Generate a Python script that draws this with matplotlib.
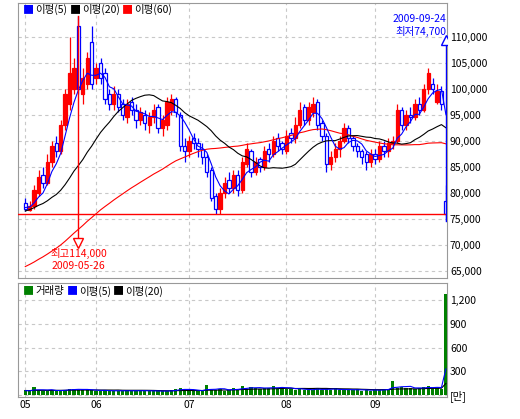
import matplotlib.pyplot as plt
import numpy as np
import pandas as pd

plt.rcParams['font.family'] = ['Noto Sans CJK KR', 'DejaVu Sans']

# 2009-05 ~ 2009-09 일봉
opens = [78000, 76800, 77500, 80000, 83500, 82000, 86000, 89500, 88000, 93000,
         97000, 100000, 112000, 99000, 101000, 109000, 102000, 105000, 103000, 99000,
         97000, 99000, 97000, 94500, 97500, 96000, 94000, 95000, 93000, 94500,
         96500, 92500, 93000, 96000, 98000, 95000, 89000, 88000, 90500, 89500,
         88500, 87000, 84500, 79500, 77000, 80000, 82500, 81000, 83500, 80500,
         85500, 88000, 84000, 86500, 85000, 88500, 87500, 90500, 89500, 88000,
         91500, 90500, 93000, 96500, 94000, 95500, 97500, 93500, 91000, 85500,
         87000, 88500, 90000, 92500, 90500, 89000, 88000, 87500, 86000, 87500,
         86500, 89000, 88000, 89500, 90000, 96000, 93000, 95000, 94500, 97000,
         96000, 100000, 101000, 97500, 99500, 78500]
closes = [77000, 77500, 80500, 83000, 82000, 86000, 89000, 88000, 93000, 99000,
          103000, 104000, 100000, 102000, 106000, 101000, 104000, 102000, 98000, 97000,
          99000, 96500, 95000, 97000, 96000, 94000, 95500, 93500, 94500, 96000,
          92500, 94000, 97500, 98000, 95500, 89000, 88000, 90000, 89500, 88500,
          87000, 84000, 79000, 77000, 80000, 82000, 81000, 83500, 80500, 86000,
          88500, 84000, 86000, 85000, 88000, 87500, 90000, 89000, 88500, 91000,
          90500, 93000, 96000, 94000, 96500, 97000, 93000, 91000, 85500, 87000,
          88500, 90000, 92500, 90500, 89000, 88000, 87000, 86000, 87500, 86500,
          89000, 88000, 89500, 90000, 96000, 93000, 95000, 94500, 97000, 96000,
          100000, 103000, 100000, 99500, 97000, 76000]
highs = [79000, 78500, 81500, 84500, 85000, 87500, 90000, 91000, 94000, 100000,
         110000, 106000, 114000, 104000, 107000, 112000, 105000, 106000, 104000, 100000,
         100500, 100000, 98000, 98000, 98500, 97000, 96500, 96000, 95500, 97000,
         97000, 95000, 98500, 99000, 98500, 95500, 90500, 91000, 91500, 90500,
         89500, 87500, 85000, 80000, 81000, 83000, 84000, 84500, 84500, 87000,
         89500, 88500, 87000, 87000, 89000, 89500, 91000, 91500, 90000, 92000,
         92500, 94500, 97500, 97000, 97500, 98500, 98000, 94000, 91500, 88000,
         89500, 91000, 93500, 93000, 91000, 89500, 88500, 88000, 88500, 88500,
         90000, 90000, 90500, 91000, 97000, 96500, 96000, 96500, 98000, 98500,
         101000, 104000, 102000, 101000, 100500, 81500]
lows = [76500, 76500, 77000, 79500, 81000, 81500, 85000, 87000, 87500, 92000,
        96000, 99000, 99000, 97000, 100000, 100000, 101000, 101000, 97000, 96000,
        96000, 95500, 94000, 93500, 95000, 92500, 93000, 92000, 91500, 93500,
        91500, 91000, 92000, 95000, 94500, 88000, 86000, 87000, 88500, 87000,
        85500, 83000, 78500, 76000, 76000, 79000, 80000, 80000, 79500, 80000,
        85000, 83000, 83500, 84000, 84500, 86000, 87000, 88000, 87500, 87500,
        89500, 89500, 92500, 93000, 93000, 94500, 92000, 90000, 84000, 84500,
        86000, 87000, 89500, 89500, 88000, 87000, 85500, 84500, 85000, 85500,
        86000, 87000, 87000, 88500, 89500, 92000, 92000, 93500, 94000, 95000,
        95500, 99000, 99000, 97000, 96000, 74700]
# 이동평균 계산용 이전 종가
prior_closes = [52000, 52500, 53000, 52000, 53500, 54000, 55000, 54500, 55500, 56000,
                56500, 57000, 56000, 57500, 58000, 58500, 59000, 58000, 59500, 60000,
                60500, 61000, 60000, 61500, 62000, 62500, 63000, 62000, 63500, 64000,
                64500, 65000, 64000, 65500, 66000, 66500, 67000, 68000, 68500, 69000,
                71000, 72000, 73000, 74000, 75000, 75500, 76000, 77000, 76500, 77500,
                78000, 77000, 78500, 79000, 78000, 77500, 77000, 76500, 77500, 78000]
# 거래량 (만주)
volume = [60, 45, 100, 70, 55, 50, 60, 55, 65, 70,
          80, 75, 70, 60, 70, 60, 55, 50, 60, 55,
          50, 55, 50, 60, 55, 50, 60, 50, 55, 50,
          45, 50, 55, 60, 80, 90, 70, 55, 50, 45,
          60, 130, 70, 60, 80, 55, 60, 90, 70, 120,
          80, 100, 90, 80, 95, 85, 110, 90, 100, 80,
          75, 60, 85, 70, 60, 65, 90, 70, 75, 65,
          85, 60, 65, 70, 60, 80, 55, 60, 55, 70,
          65, 75, 80, 180, 90, 100, 85, 95, 80, 90,
          100, 110, 90, 95, 80, 1280]
prior_volume = [55, 60, 50, 65, 55, 60, 50, 55, 60, 65, 55, 50, 60, 55, 65, 60, 55, 50, 60, 55]
month_idx = [0, 16, 37, 59, 79]
month_labels = ['05', '06', '07', '08', '09']
price_ticks = list(range(65000, 110001, 5000))
vol_ticks = [0, 300, 600, 900, 1200]
vol_tick_labels = ['[만]', '300', '600', '900', '1,200']

n = len(closes)
x = np.arange(n)
allc = pd.Series(prior_closes + closes)
ma5 = allc.rolling(5).mean().values[-n:]
ma20 = allc.rolling(20).mean().values[-n:]
ma60 = allc.rolling(60).mean().values[-n:]
allv = pd.Series(prior_volume + volume)
vma5 = allv.rolling(5).mean().values[-n:]
vma20 = allv.rolling(20).mean().values[-n:]

fig = plt.figure(figsize=(5.2, 4.19), dpi=100)
ax = fig.add_axes([0.035, 0.337, 0.825, 0.656])
axv = fig.add_axes([0.035, 0.0525, 0.825, 0.272])
grey = '#999999'

for a in (ax, axv):
    a.set_xlim(-1.6, 95.3)
    a.yaxis.tick_right()
    a.tick_params(length=0, labelsize=7.5, pad=2)
    a.set_xticks(month_idx)
    a.grid(True, color='#c8c8c8', linestyle=(0, (3, 3)), linewidth=0.8)
    for s in a.spines.values():
        s.set_color(grey)

# 캔들
for i in x:
    o, c, h, l = opens[i], closes[i], highs[i], lows[i]
    col = 'red' if c >= o else 'blue'
    ax.vlines(i, l, h, color=col, linewidth=0.9, zorder=2)
    ax.bar(i, abs(c - o) or 200, bottom=min(o, c), width=0.75,
           color='red' if c >= o else 'white', edgecolor=col, linewidth=0.9, zorder=3)

ax.plot(x, ma60, color='red', linewidth=0.8, zorder=4)
ax.plot(x, ma20, color='black', linewidth=0.8, zorder=4)
ax.plot(x, ma5, color='blue', linewidth=0.8, zorder=4)
ax.axhline(closes[-1], color='red', linewidth=1, zorder=5)

ax.set_ylim(63700, 116500)
ax.set_yticks(price_ticks)
ax.set_yticklabels([f'{v:,}' for v in price_ticks])
ax.set_xticklabels([])

# 최고/최저
hi = int(np.argmax(highs))
ax.plot([hi, hi], [highs[hi], 70500], color='red', linewidth=1, zorder=5)
ax.plot(hi, 70300, marker='v', markersize=7, markerfacecolor='white', markeredgecolor='red', zorder=6)
ax.text(hi, 68300, f'최고{max(highs):,}', color='red', fontsize=7.5, ha='center', va='center')
ax.text(hi, 65900, '2009-05-26', color='red', fontsize=7.5, ha='center', va='center')
lo = int(np.argmin(lows))
ax.plot([lo, lo], [lows[lo], 109000], color='blue', linewidth=1, zorder=5)
ax.plot(lo, 109300, marker='^', markersize=7, markerfacecolor='white', markeredgecolor='blue', zorder=6)
ax.text(lo + 0.2, 111100, f'최저{min(lows):,}', color='blue', fontsize=7.5, ha='right', va='center')
ax.text(lo + 0.2, 113500, '2009-09-24', color='blue', fontsize=7.5, ha='right', va='center')

renderer = fig.canvas.get_renderer()

def legend(a, items, y):
    xs = 0.012
    inv = a.transAxes.inverted()
    for label, col in items:
        sq = a.text(xs, y, '■', color=col, fontsize=8, transform=a.transAxes, va='center')
        x1 = sq.get_window_extent(renderer).transformed(inv).x1
        t = a.text(x1 + 0.002, y, label, color='black', fontsize=7.5, transform=a.transAxes, va='center')
        xs = t.get_window_extent(renderer).transformed(inv).x1 + 0.006

legend(ax, [('이평(5)', 'blue'), ('이평(20)', 'black'), ('이평(60)', 'red')], 0.975)

# 거래량
axv.bar(x, volume, width=0.75, color='#008000', zorder=3)
axv.plot(x, vma20, color='black', linewidth=0.8, zorder=4)
axv.plot(x, vma5, color='blue', linewidth=0.8, zorder=4)
axv.set_ylim(-25, 1420)
axv.set_yticks(vol_ticks)
axv.set_yticklabels(vol_tick_labels)
axv.set_xticklabels(month_labels)
legend(axv, [('거래량', '#008000'), ('이평(5)', 'blue'), ('이평(20)', 'black')], 0.93)

fig.savefig('out.png', dpi=100)
